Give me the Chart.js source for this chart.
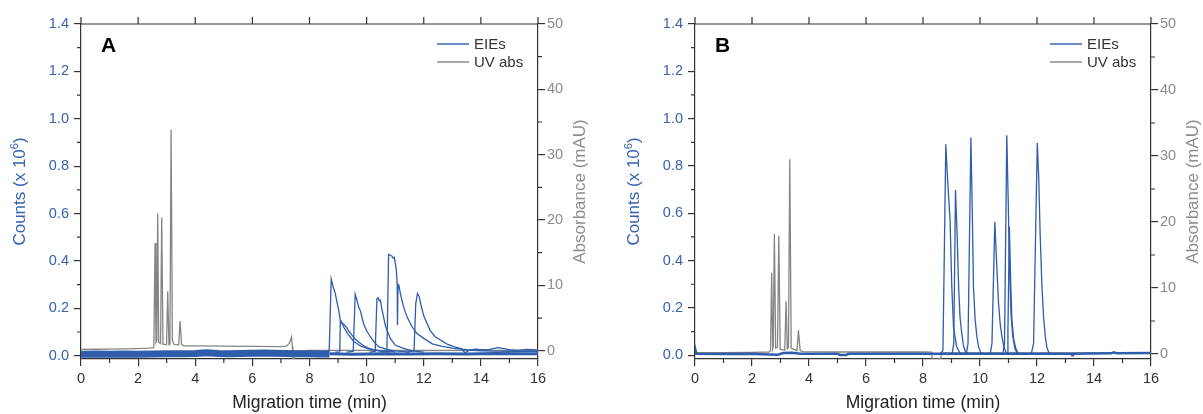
<!DOCTYPE html>
<html>
<head>
<meta charset="utf-8">
<script src="https://cdn.jsdelivr.net/npm/chart.js@4.4.1/dist/chart.umd.min.js"></script>
<style>
  html, body { margin: 0; padding: 0; background: #fff; }
  #wrap { position: relative; width: 1203px; height: 414px; overflow: hidden; }
  canvas { position: absolute; top: 0; }
  #panelA { left: 0; }
  #panelB { left: 600px; }
</style>
</head>
<body>
<div id="wrap">
  <canvas id="panelA" width="600" height="414"></canvas>
  <canvas id="panelB" width="603" height="414"></canvas>
</div>
<script>
// ---- axis ticks ----
const timeTicks = [0, 2, 4, 6, 8, 10, 12, 14, 16];
const timeMinor = [1, 3, 5, 7, 9, 11, 13, 15];
const countsMinor = [0.1, 0.3, 0.5, 0.7, 0.9, 1.1, 1.3];
const absMinor = [5, 15, 25, 35, 45];
const legendLabels = ['EIEs', 'UV abs'];

// ---- panel A : [time (min), value] ----
const uvA = [[0,0.2],[0.5,0.22],[1,0.25],[1.5,0.28],[2,0.32],[2.4,0.38],[2.55,0.45],[2.593,16.5],[2.625,1.3],[2.655,1.6],[2.686,21.0],[2.72,1.3],[2.785,1.1],[2.826,20.4],[2.87,1.0],[2.995,0.9],[3.037,9.1],[3.08,0.9],[3.115,1.0],[3.153,33.85],[3.2,1.6],[3.26,0.95],[3.42,0.9],[3.469,4.54],[3.52,1.0],[3.6,0.75],[4,0.74],[5,0.7],[6,0.66],[7,0.62],[7.2,0.7],[7.3,1.2],[7.37,2.1],[7.4,0.6],[7.42,-1.3],[7.46,-1.3],[7.48,-0.1],[8,0.05],[10,0.05],[12,0.03],[14,0.05],[16,0.05]];

const eieA_band = [[0,0.006],[0.5,0.007],[1,0.006],[1.5,0.007],[2,0.006],[2.5,0.007],[3,0.008],[3.5,0.008],[4,0.009],[4.4,0.012],[4.8,0.009],[5.2,0.008],[5.6,0.009],[6,0.01],[6.4,0.011],[6.8,0.01],[7.2,0.009],[7.6,0.008],[8,0.008],[8.4,0.007],[8.7,0.007]];
const eieA_base = [[8.7,0.008],[9.5,0.006],[10.5,0.008],[11.5,0.007],[12.5,0.008],[13.5,0.007],[14.5,0.009],[15.5,0.008],[16,0.008]];
const eieA_1 = [[8.55,0.018],[8.69,0.02],[8.76,0.324],[8.83,0.29],[8.9,0.263],[8.96,0.228],[9.02,0.193],[9.07,0.155],[9.2,0.12],[9.35,0.09],[9.55,0.06],[9.8,0.04],[10.1,0.028],[10.5,0.02],[11,0.016]];
const eieA_2 = [[8.9,0.015],[9.06,0.016],[9.08,0.145],[9.12,0.14],[9.2,0.133],[9.3,0.118],[9.4,0.1],[9.5,0.085],[9.6,0.07],[9.75,0.055],[9.9,0.042],[10.1,0.03],[10.4,0.02],[10.8,0.015]];
const eieA_3 = [[9.3,0.015],[9.53,0.018],[9.6,0.259],[9.66,0.235],[9.72,0.205],[9.78,0.19],[9.89,0.137],[10,0.105],[10.13,0.08],[10.28,0.055],[10.42,0.038],[10.7,0.027],[11,0.02],[11.5,0.015]];
const eieA_4 = [[10.1,0.015],[10.3,0.018],[10.36,0.24],[10.4,0.245],[10.44,0.232],[10.48,0.235],[10.53,0.2],[10.59,0.165],[10.65,0.13],[10.71,0.108],[10.83,0.073],[11,0.045],[11.29,0.031],[11.6,0.02],[12,0.015]];
const eieA_5 = [[10.5,0.015],[10.71,0.018],[10.77,0.428],[10.83,0.424],[10.89,0.42],[10.93,0.412],[10.97,0.415],[11.04,0.361],[11.07,0.305],[11.08,0.13],[11.1,0.3],[11.13,0.297],[11.18,0.263],[11.29,0.207],[11.41,0.165],[11.59,0.122],[11.76,0.094],[12,0.073],[12.3,0.05],[12.6,0.04],[13,0.032],[13.5,0.025],[14,0.02],[15,0.018],[16,0.018]];
const eieA_6 = [[11.4,0.015],[11.66,0.02],[11.72,0.22],[11.78,0.262],[11.84,0.25],[11.9,0.215],[12,0.168],[12.1,0.14],[12.23,0.105],[12.4,0.08],[12.6,0.065],[12.8,0.05],[13.05,0.038],[13.3,0.03],[13.45,0.012],[13.6,0.024],[13.8,0.028],[14,0.025],[14.3,0.027],[14.6,0.034],[14.8,0.03],[15,0.026],[15.3,0.022],[15.6,0.026],[16,0.024]];

// ---- panel B : [time (min), value] ----
const uvB = [[0,0.2],[1,0.22],[2,0.25],[2.6,0.3],[2.65,0.5],[2.69,12.3],[2.725,0.8],[2.745,1.2],[2.785,18.2],[2.83,0.9],[2.895,1.0],[2.94,17.9],[2.99,0.7],[3.15,0.6],[3.195,8.0],[3.24,0.8],[3.28,1.0],[3.325,29.5],[3.375,0.9],[3.58,0.5],[3.63,3.6],[3.69,0.5],[3.8,0.35],[5,0.3],[6,0.3],[7,0.3],[8,0.3],[8.3,0.28],[8.33,-0.8],[8.6,-0.8],[8.63,0.15],[10,0.15],[12,0.15],[14,0.15],[16,0.15]];

const eieB_base = [[0,0.006],[0.02,0.02],[0.05,0.006],[1,0.005],[2,0.006],[2.6,0.003],[2.9,0.002],[3.1,0.009],[3.4,0.01],[3.7,0.006],[5,0.006],[5.1,0.001],[5.3,0.001],[5.4,0.006],[7,0.006],[8.5,0.006],[10,0.006],[12,0.006],[13.2,0.006],[13.23,0],[13.26,0.006],[14.6,0.008],[14.7,0.012],[14.8,0.008],[16,0.009]];
const eieB_1 = [[8.6,0.006],[8.7,0.02],[8.75,0.45],[8.8,0.892],[8.86,0.75],[8.95,0.571],[9.01,0.29],[9.07,0.12],[9.18,0.036],[9.3,0.008]];
const eieB_2 = [[9.02,0.006],[9.08,0.05],[9.14,0.698],[9.2,0.5],[9.25,0.29],[9.3,0.16],[9.36,0.093],[9.42,0.04],[9.5,0.012],[9.6,0.006]];
const eieB_3 = [[9.52,0.006],[9.58,0.05],[9.68,0.92],[9.73,0.6],[9.77,0.29],[9.83,0.15],[9.89,0.079],[9.95,0.035],[10.02,0.012],[10.1,0.006]];
const eieB_4 = [[10.36,0.006],[10.42,0.05],[10.52,0.564],[10.58,0.4],[10.65,0.22],[10.71,0.13],[10.77,0.079],[10.83,0.04],[10.9,0.015],[11,0.006]];
const eieB_5 = [[10.8,0.006],[10.86,0.05],[10.94,0.93],[10.99,0.65],[11.04,0.35],[11.09,0.17],[11.15,0.08],[11.22,0.03],[11.3,0.01]];
const eieB_6 = [[10.95,0.006],[10.98,0.1],[11.03,0.543],[11.08,0.3],[11.12,0.149],[11.18,0.07],[11.25,0.03],[11.32,0.012],[11.4,0.006]];
const eieB_7 = [[11.8,0.006],[11.88,0.05],[12.01,0.897],[12.06,0.75],[12.11,0.515],[12.17,0.3],[12.23,0.163],[12.29,0.08],[12.35,0.03],[12.42,0.01],[12.5,0.006]];

const BLUE = '#2f5dab';
const BLUE_TEXT = '#3662b0';
const GRAY = '#858585';
const GRAY_TEXT = '#8c8c8c';
const AXIS = '#333333';
const FONT = "'Liberation Sans', Arial, sans-serif";

Chart.defaults.font.family = FONT;

const toXY = arr => arr.map(p => ({ x: p[0], y: p[1] }));

function eieSet(arr, width) {
    return { data: toXY(arr), yAxisID: 'y', borderColor: BLUE, borderWidth: width || 1.3, pointRadius: 0, tension: 0, fill: false };
}
function uvSet(arr) {
    return { data: toXY(arr), yAxisID: 'y2', borderColor: GRAY, borderWidth: 1.3, pointRadius: 0, tension: 0, fill: false };
}

// frame: top border, minor ticks, titles, legend, panel letter
const framePlugin = {
    id: 'frame',
    afterDraw(chart, args, opts) {
        const { ctx, chartArea: a, scales } = chart;
        ctx.save();
        ctx.strokeStyle = AXIS;
        ctx.lineWidth = 1.2;
        ctx.beginPath();
        ctx.moveTo(a.left, a.top); ctx.lineTo(a.right, a.top);
        timeTicks.forEach(v => { const px = scales.x.getPixelForValue(v); ctx.moveTo(px, a.top); ctx.lineTo(px, a.top - 7); });
        timeMinor.forEach(v => { const px = scales.x.getPixelForValue(v); ctx.moveTo(px, a.bottom); ctx.lineTo(px, a.bottom + 4); });
        countsMinor.forEach(v => { const py = scales.y.getPixelForValue(v); ctx.moveTo(a.left, py); ctx.lineTo(a.left - 4, py); });
        absMinor.forEach(v => { const py = scales.y2.getPixelForValue(v); ctx.moveTo(a.right, py); ctx.lineTo(a.right + 4, py); });
        ctx.stroke();

        const midY = (a.top + a.bottom) / 2;

        // left title with superscript
        ctx.save();
        ctx.translate(a.left - 60.5, midY);
        ctx.rotate(-Math.PI / 2);
        ctx.fillStyle = BLUE_TEXT;
        ctx.textBaseline = 'middle';
        ctx.textAlign = 'left';
        const big = '17px ' + FONT, small = '11px ' + FONT;
        ctx.font = big; const w1 = ctx.measureText('Counts (x 10').width; const w3 = ctx.measureText(')').width;
        ctx.font = small; const w2 = ctx.measureText('6').width;
        let x0 = -(w1 + w2 + w3) / 2;
        ctx.font = big; ctx.fillText('Counts (x 10', x0, 0);
        ctx.font = small; ctx.fillText('6', x0 + w1, -6);
        ctx.font = big; ctx.fillText(')', x0 + w1 + w2, 0);
        ctx.restore();

        // right title
        ctx.save();
        ctx.translate(a.right + 42.5, midY);
        ctx.rotate(-Math.PI / 2);
        ctx.fillStyle = GRAY_TEXT;
        ctx.font = big;
        ctx.textAlign = 'center';
        ctx.textBaseline = 'middle';
        ctx.fillText('Absorbance (mAU)', 0, 0);
        ctx.restore();

        // x title
        ctx.fillStyle = '#222';
        ctx.font = '17.5px ' + FONT;
        ctx.textAlign = 'center';
        ctx.textBaseline = 'middle';
        ctx.fillText('Migration time (min)', (a.left + a.right) / 2, a.bottom + 44);

        // panel letter
        ctx.font = 'bold 21px ' + FONT;
        ctx.textAlign = 'left';
        ctx.textBaseline = 'alphabetic';
        ctx.fillStyle = '#000';
        ctx.fillText(opts.letter, a.left + 20, a.top + 28);

        // legend
        const colors = [BLUE, GRAY];
        ctx.font = '15px ' + FONT;
        ctx.textBaseline = 'middle';
        legendLabels.forEach((lab, i) => {
            const y = a.top + 20 + i * 18;
            ctx.strokeStyle = colors[i];
            ctx.lineWidth = 1.4;
            ctx.beginPath();
            ctx.moveTo(a.right - 101, y); ctx.lineTo(a.right - 69, y);
            ctx.stroke();
            ctx.fillStyle = '#333';
            ctx.fillText(lab, a.right - 64, y + 1);
        });
        ctx.restore();
    }
};

function makePanel(id, letter, blueSets, uvSetData, countsMin, absMin, leftW, rightW) {
    const ctx = document.getElementById(id).getContext('2d');
    return new Chart(ctx, {
        type: 'line',
        data: { datasets: blueSets.concat([uvSetData]) },
        options: {
            responsive: false, animation: false,
            layout: { padding: { top: 24, left: 0, right: 0, bottom: 0 } },
            plugins: { legend: { display: false }, tooltip: { enabled: false }, frame: { letter: letter } },
            scales: {
                x: {
                    type: 'linear', min: 0, max: 16,
                    ticks: { stepSize: 2, color: '#333', font: { size: 14.5 }, padding: 4, maxRotation: 0 },
                    grid: { drawOnChartArea: false, color: AXIS, tickLength: 7, lineWidth: 1.2 },
                    border: { color: AXIS, width: 1.2 },
                    afterFit: s => { s.height = 55; }
                },
                y: {
                    type: 'linear', position: 'left', min: countsMin, max: 1.4,
                    ticks: { stepSize: 0.2, includeBounds: false, color: BLUE_TEXT, font: { size: 14.5 }, padding: 5, callback: v => v.toFixed(1) },
                    grid: { drawOnChartArea: false, color: AXIS, tickLength: 7, lineWidth: 1.2 },
                    border: { color: AXIS, width: 1.2 },
                    afterFit: s => { s.width = leftW; }
                },
                y2: {
                    type: 'linear', position: 'right', min: absMin, max: 50,
                    ticks: { stepSize: 10, includeBounds: false, color: GRAY_TEXT, font: { size: 14.5 }, padding: 2 },
                    grid: { drawOnChartArea: false, color: AXIS, tickLength: 7, lineWidth: 1.2 },
                    border: { color: AXIS, width: 1.2 },
                    afterFit: s => { s.width = rightW; }
                }
            }
        },
        plugins: [framePlugin]
    });
}

makePanel('panelA', 'A',
    [eieSet(eieA_band, 7), eieSet(eieA_base, 3), eieSet(eieA_1), eieSet(eieA_2), eieSet(eieA_3), eieSet(eieA_4), eieSet(eieA_5), eieSet(eieA_6)],
    uvSet(uvA), -0.014, -1.27, 81, 62);

makePanel('panelB', 'B',
    [eieSet(eieB_base, 2.5), eieSet(eieB_1), eieSet(eieB_2), eieSet(eieB_3), eieSet(eieB_4), eieSet(eieB_5), eieSet(eieB_6), eieSet(eieB_7)],
    uvSet(uvB), -0.016, -0.76, 95, 52);
</script>
</body>
</html>
